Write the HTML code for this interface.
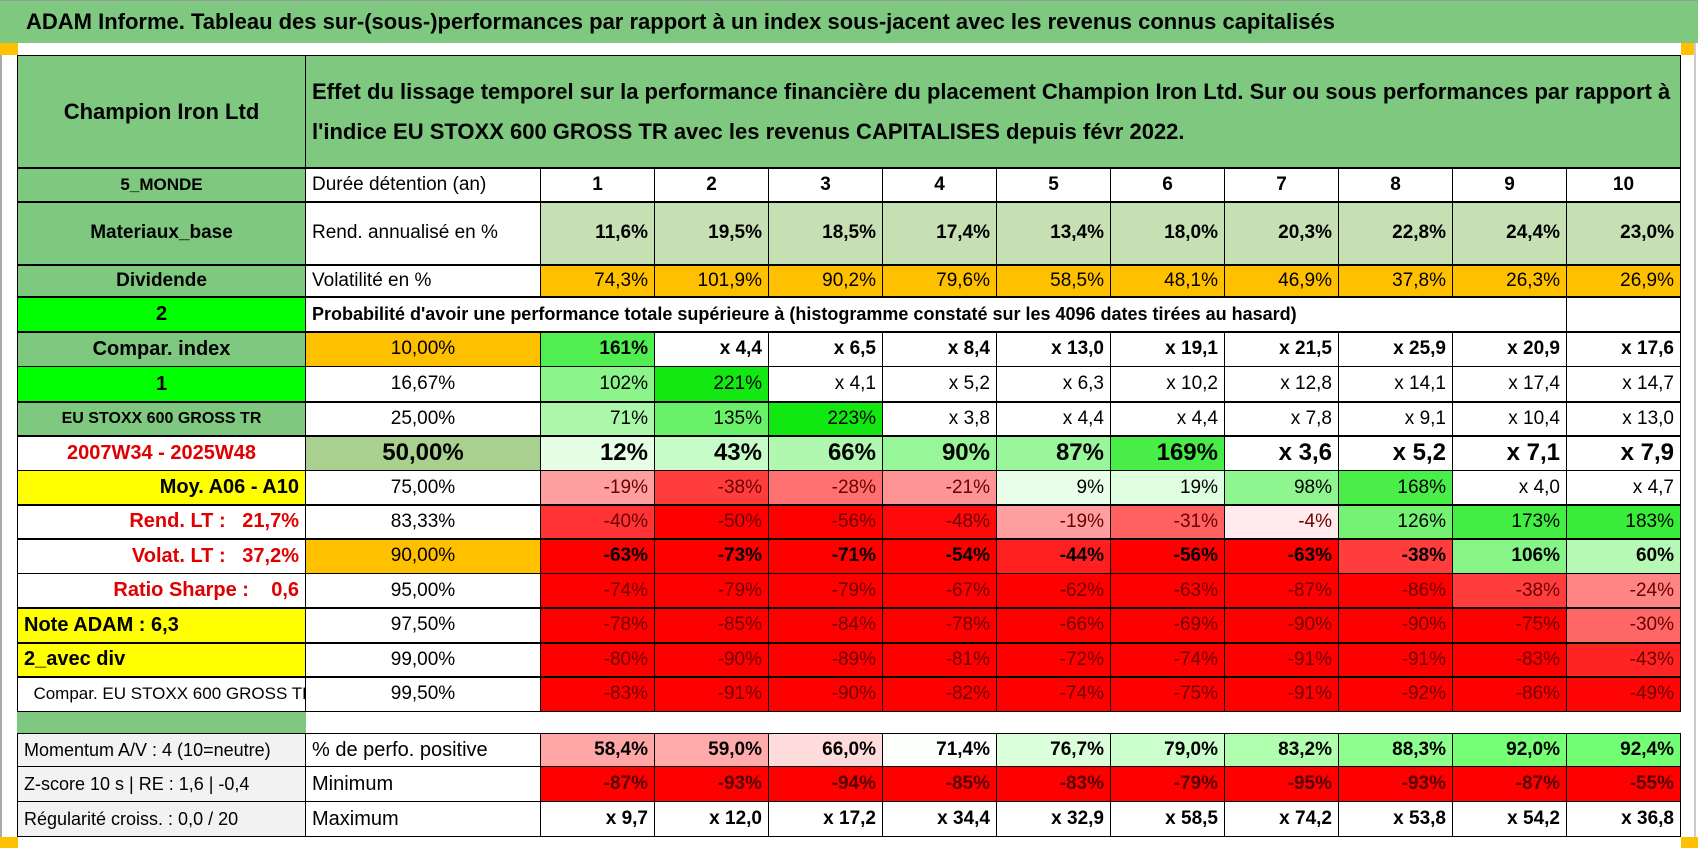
<!DOCTYPE html>
<html><head><meta charset="utf-8">
<style>
html,body{margin:0;padding:0;background:#fff;}
#root{position:relative;width:1698px;height:848px;overflow:hidden;background:#fff;font-family:"Liberation Sans Narrow","Liberation Sans",sans-serif;}
.c{position:absolute;box-sizing:border-box;border-right:1px solid #000;border-bottom:1px solid #000;display:flex;align-items:center;white-space:pre;overflow:hidden;color:#000;font-size:19px;padding:0 6px;}
#title{position:absolute;left:0;top:0;width:1698px;height:43px;background:#7ec97f;border-top:1px solid #999;box-sizing:border-box;font-size:22px;font-weight:bold;padding-left:26px;display:flex;align-items:center;font-family:"Liberation Sans Narrow","Liberation Sans",sans-serif;}
</style></head><body>
<div id="root">
<div id="title">ADAM Informe. Tableau des sur-(sous-)performances par rapport à un index sous-jacent avec les revenus connus capitalisés</div>
<div style="position:absolute;left:0;top:43px;width:18px;height:12px;background:#ffc000"></div>
<div style="position:absolute;left:1681px;top:43px;width:14px;height:12px;background:#ffc000"></div>
<div style="position:absolute;left:0;top:837px;width:18px;height:11px;background:#ffc000"></div>
<div style="position:absolute;left:1681px;top:837px;width:17px;height:11px;background:#ffc000"></div>
<div style="position:absolute;left:0;top:55px;width:2px;height:782px;background:#aaa"></div>
<div style="position:absolute;left:1694px;top:43px;width:2px;height:794px;background:#ccc"></div>
</div>
<script>
const durations = ["1","2","3","4","5","6","7","8","9","10"];
const rendAnn = ["11,6%","19,5%","18,5%","17,4%","13,4%","18,0%","20,3%","22,8%","24,4%","23,0%"];
const volat = ["74,3%","101,9%","90,2%","79,6%","58,5%","48,1%","46,9%","37,8%","26,3%","26,9%"];
const quantiles = ["10,00%","16,67%","25,00%","50,00%","75,00%","83,33%","90,00%","95,00%","97,50%","99,00%","99,50%"];
const q10 = ["161%","x 4,4","x 6,5","x 8,4","x 13,0","x 19,1","x 21,5","x 25,9","x 20,9","x 17,6"];
const q16 = ["102%","221%","x 4,1","x 5,2","x 6,3","x 10,2","x 12,8","x 14,1","x 17,4","x 14,7"];
const q25 = ["71%","135%","223%","x 3,8","x 4,4","x 4,4","x 7,8","x 9,1","x 10,4","x 13,0"];
const q50 = ["12%","43%","66%","90%","87%","169%","x 3,6","x 5,2","x 7,1","x 7,9"];
const q75 = ["-19%","-38%","-28%","-21%","9%","19%","98%","168%","x 4,0","x 4,7"];
const q83 = ["-40%","-50%","-56%","-48%","-19%","-31%","-4%","126%","173%","183%"];
const q90 = ["-63%","-73%","-71%","-54%","-44%","-56%","-63%","-38%","106%","60%"];
const q95 = ["-74%","-79%","-79%","-67%","-62%","-63%","-87%","-86%","-38%","-24%"];
const q975 = ["-78%","-85%","-84%","-78%","-66%","-69%","-90%","-90%","-75%","-30%"];
const q99 = ["-80%","-90%","-89%","-81%","-72%","-74%","-91%","-91%","-83%","-43%"];
const q995 = ["-83%","-91%","-90%","-82%","-74%","-75%","-91%","-92%","-86%","-49%"];
const pctPos = ["58,4%","59,0%","66,0%","71,4%","76,7%","79,0%","83,2%","88,3%","92,0%","92,4%"];
const minimum = ["-87%","-93%","-94%","-85%","-83%","-79%","-95%","-93%","-87%","-55%"];
const maximum = ["x 9,7","x 12,0","x 17,2","x 34,4","x 32,9","x 58,5","x 74,2","x 53,8","x 54,2","x 36,8"];

const root = document.getElementById('root');
const X0 = 17, C0 = 289, C1 = 235, CW = 114;
function colX(i){ return X0 + C0 + C1 + i*CW; }
function cell(name, x, y, w, h, txt, o){
  o = o || {};
  const d = document.createElement('div');
  d.className = 'c';
  
  
  d.style.left = x+'px'; d.style.top = y+'px'; d.style.width = w+'px'; d.style.height = h+'px';
  d.style.background = o.bg || '#fff';
  if (o.color) d.style.color = o.color;
  if (o.bold) d.style.fontWeight = 'bold';
  if (o.size) d.style.fontSize = o.size+'px';
  d.style.justifyContent = o.align === 'left' ? 'flex-start' : (o.align === 'right' ? 'flex-end' : 'center');
  if (o.wrap){ d.style.whiteSpace = 'normal'; d.style.lineHeight = o.wrap+'px'; }
  if (o.bl) d.style.borderLeft = '1px solid #000';
  if (o.bt) d.style.borderTop = '1px solid #000';
  if (o.noborder){ d.style.border = 'none'; }
  d.textContent = txt;
  root.appendChild(d);
  return d;
}
function num(s){ return parseFloat(s.replace('%','').replace(',','.').replace('x','').trim()); }
function heatColor(s){
  if (s.indexOf('x') === 0) return '#ffffff';
  const p = num(s);
  if (p < 0){ const t = Math.min(1, -p/50); const g = Math.round(255*(1-t)); return `rgb(255,${g},${g})`; }
  const t = Math.min(1, p/240); const v = Math.round(255*(1-t)*0.95 + (t>=1?20:0));
  return `rgb(${v},${Math.round(255-25*t)},${v})`;
}
function posColor(s){
  const p = num(s);
  if (p < 71){ const t = Math.min(1,(71-p)/20); const g = Math.round(255*(1-t*0.55)); return `rgb(255,${g},${g})`; }
  const t = Math.min(1,(p-71)/28); const v = Math.round(255*(1-t*0.72)); return `rgb(${v},255,${v})`;
}

const G = '#7ec97f';
cell('company-name', X0, 55, C0, 113, 'Champion Iron Ltd', {bg:G, size:22, bold:true, bl:true, bt:true});
cell('header-description', X0+C0, 55, C1+10*CW, 113, "Effet du lissage temporel sur la performance financière du placement Champion Iron Ltd. Sur ou sous performances par rapport à l'indice EU STOXX 600 GROSS TR avec les revenus CAPITALISES depuis févr 2022.", {bg:G, size:22, bold:true, align:'left', wrap:40, bt:true});

const rowsY = [55,168,202,265,297,332,367,402,436,471,505,539,574,608,643,677,712];
const leftCol = [
  ['region-label','5_MONDE',{bg:G,size:17}],
  ['sector-label','Materiaux_base',{bg:G,size:19}],
  ['dividend-label','Dividende',{bg:G,size:19}],
  ['selector-2','2',{bg:'#00ff00',size:20}],
  ['compar-index-label','Compar. index',{bg:G,size:20}],
  ['selector-1','1',{bg:'#00ff00',size:20}],
  ['index-name','EU STOXX 600 GROSS TR',{bg:G,size:16}],
  ['period-label','2007W34 - 2025W48',{color:'#e00000',size:20}],
  ['average-label','Moy. A06 - A10',{bg:'#ffff00',size:20,align:'right'}],
  ['long-term-return','Rend. LT :   21,7%',{color:'#e00000',size:20,align:'right'}],
  ['long-term-volatility','Volat. LT :   37,2%',{color:'#e00000',size:20,align:'right'}],
  ['sharpe-ratio','Ratio Sharpe :    0,6',{color:'#e00000',size:20,align:'right'}],
  ['adam-score','Note ADAM : 6,3',{bg:'#ffff00',size:20,align:'left'}],
  ['dividend-mode','2_avec div',{bg:'#ffff00',size:20,align:'left'}],
  ['comparison-name','  Compar. EU STOXX 600 GROSS TR',{size:17,align:'left',bold:false}],
];
leftCol.forEach((r,i)=>{ const o = Object.assign({bl:true, bold:true}, r[2]); cell(r[0], X0, rowsY[i+1], C0, rowsY[i+2]-rowsY[i+1], r[1], o); });

cell('duration-label', X0+C0, 168, C1, 34, 'Durée détention (an)', {align:'left', size:19});
cell('return-label', X0+C0, 202, C1, 63, 'Rend. annualisé en %', {align:'left', size:19});
cell('volatility-label', X0+C0, 265, C1, 32, 'Volatilité en %', {align:'left', size:19});
cell('probability-title', X0+C0, 297, C1+9*CW, 35, "Probabilité d'avoir une performance totale supérieure à (histogramme constaté sur les 4096 dates tirées au hasard)", {align:'left', bold:true, size:18});
cell('probability-empty', colX(9), 297, CW, 35, '', {});

durations.forEach((v,i)=>cell('duration-'+v, colX(i), 168, CW, 34, v, {bold:true, size:19}));
rendAnn.forEach((v,i)=>cell('return-'+(i+1), colX(i), 202, CW, 63, v, {bg:'#c6e0b4', bold:true, align:'right', size:19}));
volat.forEach((v,i)=>cell('volatility-'+(i+1), colX(i), 265, CW, 32, v, {bg:'#ffc000', align:'right', size:19}));

const qRows = [q10,q16,q25,q50,q75,q83,q90,q95,q975,q99,q995];
const qBg = ['#ffc000',null,null,'#a9d08e',null,null,'#ffc000',null,null,null,null];
const qBold = [true,false,false,true,false,false,true,false,false,false,false];
qRows.forEach((row,r)=>{
  const y = rowsY[r+5], h = rowsY[r+6]-y;
  const big = r===3;
  cell('quantile-'+r, X0+C0, y, C1, h, quantiles[r], {bg:qBg[r]||'#fff', size: big?24:19, bold: big});
  row.forEach((v,i)=>{
    const neg = v.indexOf('-')===0;
    cell('quantile-'+r+'-year-'+(i+1), colX(i), y, CW, h, v, {bg:heatColor(v), align:'right', bold:qBold[r], size: big?24:19, color: (neg && !qBold[r]) ? '#6a0000' : '#000'});
  });
});

cell('spacer-left', X0, 712, C0, 21, '', {bg:G, noborder:true});

cell('momentum-label', X0, 733, C0, 34, 'Momentum A/V : 4 (10=neutre)', {bg:'#f2f2f2', align:'left', size:18, bl:true, bt:true});
cell('zscore-label', X0, 767, C0, 35, 'Z-score 10 s | RE : 1,6 | -0,4', {bg:'#f2f2f2', align:'left', size:18, bl:true});
cell('regularity-label', X0, 802, C0, 35, 'Régularité croiss. : 0,0 / 20', {bg:'#f2f2f2', align:'left', size:18, bl:true});
cell('positive-label', X0+C0, 733, C1, 34, '% de perfo. positive', {align:'left', size:20, bt:true});
cell('minimum-label', X0+C0, 767, C1, 35, 'Minimum', {align:'left', size:20});
cell('maximum-label', X0+C0, 802, C1, 35, 'Maximum', {align:'left', size:20});
pctPos.forEach((v,i)=>{ const d = cell('positive-'+(i+1), colX(i), 733, CW, 34, v, {bg:posColor(v), bold:true, align:'right', size:19}); d.style.borderTop='1px solid #000'; });
minimum.forEach((v,i)=>cell('minimum-'+(i+1), colX(i), 767, CW, 35, v, {bg:heatColor(v), bold:true, align:'right', size:19, color:'#500'}));
maximum.forEach((v,i)=>cell('maximum-'+(i+1), colX(i), 802, CW, 35, v, {bold:true, align:'right', size:19}));

[168,202,265,297,332,402,436,505,539,608,643,677].forEach(y=>{
  const l = document.createElement('div');
  
  
  l.style.cssText = `position:absolute;left:${X0}px;top:${y-1}px;width:${C0+C1+10*CW}px;height:2px;background:#000`;
  root.appendChild(l);
});
</script>
</body></html>
